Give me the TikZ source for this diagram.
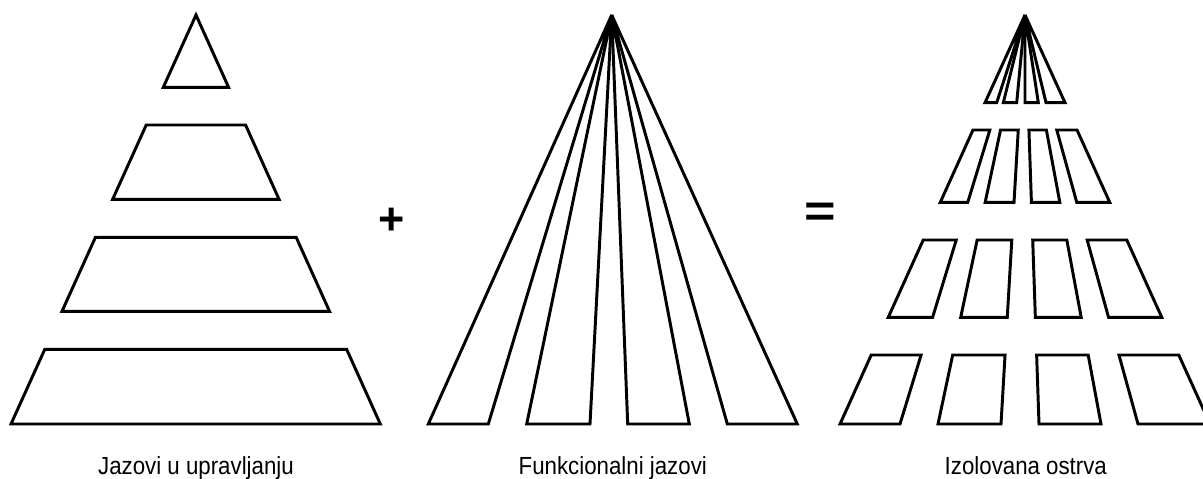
\documentclass[tikz,border=0pt]{standalone}
\usepackage{fontspec}
\usetikzlibrary{calc}
\newfontfamily\capfont{Liberation Sans}[FakeStretch=0.9]
\newfontfamily\opfont{Liberation Sans Bold}

\begin{document}
\begin{tikzpicture}[x=0.025cm,y=-0.025cm,line width=2.1pt,line join=miter,
  caption/.style={font=\capfont\fontsize{17.6}{20}\selectfont,anchor=base,inner sep=0pt},
  sign/.style={font=\opfont\fontsize{32}{32}\selectfont,inner sep=0pt}]
\useasboundingbox (0,0) rectangle (1203,479);
\clip (0,0) rectangle (1203,479);
% left: the pyramid cut in bands
\coordinate (lA) at (196,15);
\coordinate (lL) at (11,424);\coordinate (lR) at (380.3,424);
\foreach \ta/\tb in {0/0.1768,0.2689/0.4506,0.5435/0.7244,0.8174/1}
  \draw ($(lA)!\ta!(lL)$) -- ($(lA)!\ta!(lR)$) -- ($(lA)!\tb!(lR)$) -- ($(lA)!\tb!(lL)$) -- cycle;
% middle: the pyramid cut in wedges
\coordinate (mA) at (611.7,15);
\foreach \p/\q in {428.3/488.3,526.7/590,627.7/689.3,727.3/797.3}
  \draw (mA) -- (\p,424) -- (\q,424) -- cycle;
% right: bands and wedges together
\coordinate (rA) at (1025,15);
\foreach \p/\q in {985/996.7,1003.3/1016.7,1025/1038.3,1046/1065}
  \draw (rA) -- (\p,102.7) -- (\q,102.7) -- cycle;
\foreach \p/\q in {840/900,938/1001,1039/1101,1138/1210}
  \foreach \ta/\tb in {0.2812/0.4579,0.5501/0.7392,0.8313/1}
    \draw ($(rA)!\ta!(\p,424)$) -- ($(rA)!\ta!(\q,424)$) -- ($(rA)!\tb!(\q,424)$) -- ($(rA)!\tb!(\p,424)$) -- cycle;
\node[sign] (plus) at (392,221) {+};
\node[sign,xscale=1.2] (eq) at (820,215) {=};
\node[caption] (jazoviUpr) at (196,474.3) {Jazovi u upravljanju};
\node[caption] (funkJaz) at (612.8,474.3) {Funkcionalni jazovi};
\node[caption] (izolOst) at (1025.8,474.3) {Izolovana ostrva};
\end{tikzpicture}
\end{document}
